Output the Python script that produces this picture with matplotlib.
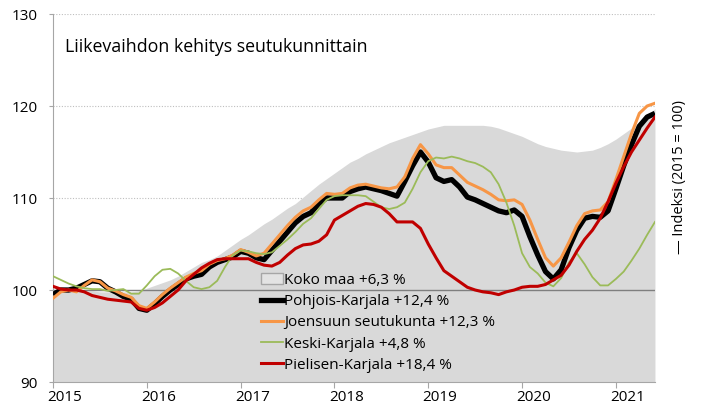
import numpy as np
import pandas as pd
import matplotlib
matplotlib.use("Agg")
import matplotlib.pyplot as plt
import matplotlib.transforms as mtransforms
from matplotlib.patches import Patch
from matplotlib.lines import Line2D

plt.rcParams['font.family'] = ['Open Sans', 'DejaVu Sans']

# Kuukaudet 1/2015 - 6/2021
kuukaudet = pd.date_range("2015-01-01", periods=78, freq="MS")

koko_maa = [100.0, 99.9, 99.9, 99.9, 99.9, 99.9, 99.8, 99.8, 99.8, 99.8,
            99.8, 99.9, 100.2, 100.5, 100.8, 101.1, 101.5, 102.0, 102.5, 103.0,
            103.3, 103.7, 104.3, 104.9, 105.5, 106.0, 106.6, 107.2, 107.7, 108.3,
            108.9, 109.4, 110.1, 110.8, 111.5, 112.1, 112.7, 113.3, 113.9, 114.3,
            114.8, 115.2, 115.6, 116.0, 116.3, 116.6, 116.9, 117.2, 117.5, 117.7,
            117.9, 117.9, 117.9, 117.9, 117.9, 117.9, 117.8, 117.6, 117.3, 117.0,
            116.7, 116.3, 115.9, 115.6, 115.4, 115.2, 115.1, 115.0, 115.1, 115.2,
            115.5, 115.9, 116.4, 117.0, 117.6, 118.3, 119.0, 119.7]

pohjois_karjala = [99.5, 100.0, 100.0, 100.2, 100.6, 101.0, 100.9, 100.2, 99.8, 99.3,
                   99.0, 98.0, 97.8, 98.5, 99.3, 100.0, 100.6, 101.2, 101.5, 101.7,
                   102.5, 103.0, 103.3, 103.6, 104.2, 104.0, 103.5, 103.3, 104.3, 105.3,
                   106.3, 107.3, 108.0, 108.4, 109.4, 110.0, 110.0, 110.0, 110.7, 111.0,
                   111.2, 111.0, 110.8, 110.5, 110.2, 111.8, 113.5, 115.0, 113.9, 112.2,
                   111.8, 112.0, 111.2, 110.1, 109.8, 109.4, 109.0, 108.6, 108.4, 108.7,
                   108.0, 105.8, 103.8, 102.0, 101.2, 102.2, 104.6, 106.5, 107.8, 108.0,
                   107.9, 108.6, 111.0, 113.5, 115.8, 117.8, 118.8, 119.2]

joensuu = [99.1, 99.8, 100.0, 99.8, 100.5, 101.1, 100.9, 100.2, 99.9, 99.5,
           99.2, 98.3, 98.0, 98.7, 99.5, 100.2, 100.8, 101.4, 101.8, 102.1,
           102.8, 103.2, 103.4, 103.8, 104.4, 104.1, 103.7, 104.0, 105.0, 106.0,
           107.0, 107.9, 108.6, 109.0, 109.8, 110.5, 110.4, 110.5, 111.1, 111.4,
           111.5, 111.3, 111.1, 111.0, 111.2, 112.3, 114.3, 115.8, 114.8, 113.6,
           113.3, 113.3, 112.5, 111.7, 111.3, 110.9, 110.4, 109.8, 109.7, 109.8,
           109.3, 107.6, 105.5, 103.5, 102.6, 103.5, 105.2, 107.0, 108.3, 108.6,
           108.7, 109.6, 112.0, 114.5, 117.0, 119.2, 120.0, 120.3]

keski_karjala = [101.5, 101.1, 100.7, 100.4, 100.2, 100.1, 100.1, 99.9, 100.0, 100.1,
                 99.6, 99.6, 100.5, 101.5, 102.2, 102.3, 101.8, 101.0, 100.3, 100.1,
                 100.3, 101.0, 102.5, 103.8, 104.3, 104.2, 104.0, 103.9, 104.1, 104.8,
                 105.5, 106.3, 107.2, 107.8, 108.8, 109.8, 110.2, 110.3, 110.3, 110.3,
                 110.2, 109.6, 109.0, 108.8, 109.0, 109.5, 111.0, 112.8, 114.0, 114.4,
                 114.3, 114.5, 114.3, 114.0, 113.8, 113.4, 112.8, 111.5, 109.5, 107.0,
                 104.0, 102.5, 101.8, 100.8, 100.4, 101.3, 103.0, 104.0, 102.8, 101.4,
                 100.5, 100.5, 101.2, 102.0, 103.2, 104.5, 106.0, 107.4]

pielisen_karjala = [100.4, 100.1, 100.0, 100.0, 99.8, 99.4, 99.2, 99.0, 98.9, 98.8,
                    98.7, 98.0, 97.8, 98.1, 98.6, 99.3, 100.0, 101.0, 101.7, 102.4,
                    102.9, 103.3, 103.4, 103.4, 103.4, 103.4, 103.0, 102.7, 102.6, 103.0,
                    103.8, 104.5, 104.9, 105.0, 105.3, 106.0, 107.6, 108.1, 108.6, 109.1,
                    109.4, 109.3, 109.0, 108.3, 107.4, 107.4, 107.4, 106.7, 105.0, 103.5,
                    102.1, 101.5, 100.9, 100.3, 100.0, 99.8, 99.7, 99.5, 99.8, 100.0,
                    100.3, 100.4, 100.4, 100.6, 101.1, 101.6, 102.7, 104.2, 105.5, 106.5,
                    107.8, 109.6, 111.6, 113.4, 115.0, 116.3, 117.6, 118.8]

nimet = ["Koko maa +6,3 %", "Pohjois-Karjala +12,4 %", "Joensuun seutukunta +12,3 %",
         "Keski-Karjala +4,8 %", "Pielisen-Karjala +18,4 %"]
vuodet = [2015, 2016, 2017, 2018, 2019, 2020, 2021]

x = kuukaudet.year + (kuukaudet.month - 1) / 12

fig = plt.figure(figsize=(7.02, 4.07), dpi=100)
ax = fig.add_axes([0.0755, 0.0614, 0.8575, 0.9042])

ax.fill_between(x, 90, koko_maa, color="#d9d9d9", lw=0, zorder=1)
ax.axhline(100, color="#7f7f7f", lw=1.0, zorder=2)
for yv in [110, 120, 130]:
    ax.axhline(yv, color="#bfbfbf", lw=0.8, ls=(0, (1, 1.5)), zorder=0.5)

ax.plot(x, pohjois_karjala, color="black", lw=3.8, zorder=3, solid_capstyle="butt")
ax.plot(x, joensuu, color="#f79646", lw=2.2, zorder=4)
ax.plot(x, keski_karjala, color="#9bbb59", lw=1.3, zorder=5)
ax.plot(x, pielisen_karjala, color="#c00000", lw=2.2, zorder=6)

ax.set_xlim(x[0], x[-1])
ax.set_ylim(90, 130)
ax.set_yticks([90, 100, 110, 120, 130])
ax.set_xticks(vuodet)
ax.set_xticklabels([str(v) for v in vuodet])

for s in ["top", "right"]:
    ax.spines[s].set_visible(False)
ax.spines["left"].set_color("#a6a6a6")
ax.spines["bottom"].set_color("#a6a6a6")
ax.tick_params(axis="both", colors="#a6a6a6", labelcolor="black", labelsize=11, length=4)
ax.tick_params(axis="y", length=3, pad=8)
ax.tick_params(axis="x", pad=2)

# vuosiluvut alkavat hieman ennen tick-viivaa
siirto = mtransforms.ScaledTranslation(-4 / 72, 0, fig.dpi_scale_trans)
for lbl in ax.get_xticklabels():
    lbl.set_horizontalalignment("left")
    lbl.set_transform(lbl.get_transform() + siirto)

ax.text(0.02, 0.935, "Liikevaihdon kehitys seutukunnittain", transform=ax.transAxes,
        fontsize=12.8, va="top", ha="left")

kahvat = [Patch(facecolor="#e3e3e3", edgecolor="#a6a6a6", lw=1.0),
          Line2D([], [], color="black", lw=3.8),
          Line2D([], [], color="#f79646", lw=2.2),
          Line2D([], [], color="#9bbb59", lw=1.3),
          Line2D([], [], color="#c00000", lw=2.2)]
ax.legend(kahvat, nimet, loc="upper left", bbox_to_anchor=(0.345, 0.297), frameon=False,
          fontsize=11, handlelength=1.45, handletextpad=0.08, labelspacing=0.41,
          borderpad=0, borderaxespad=0)

fig.text(0.968, 0.565, "— Indeksi (2015 = 100)", rotation=90, ha="center", va="center",
         fontsize=10.5)

fig.savefig("out.png", dpi=100)
